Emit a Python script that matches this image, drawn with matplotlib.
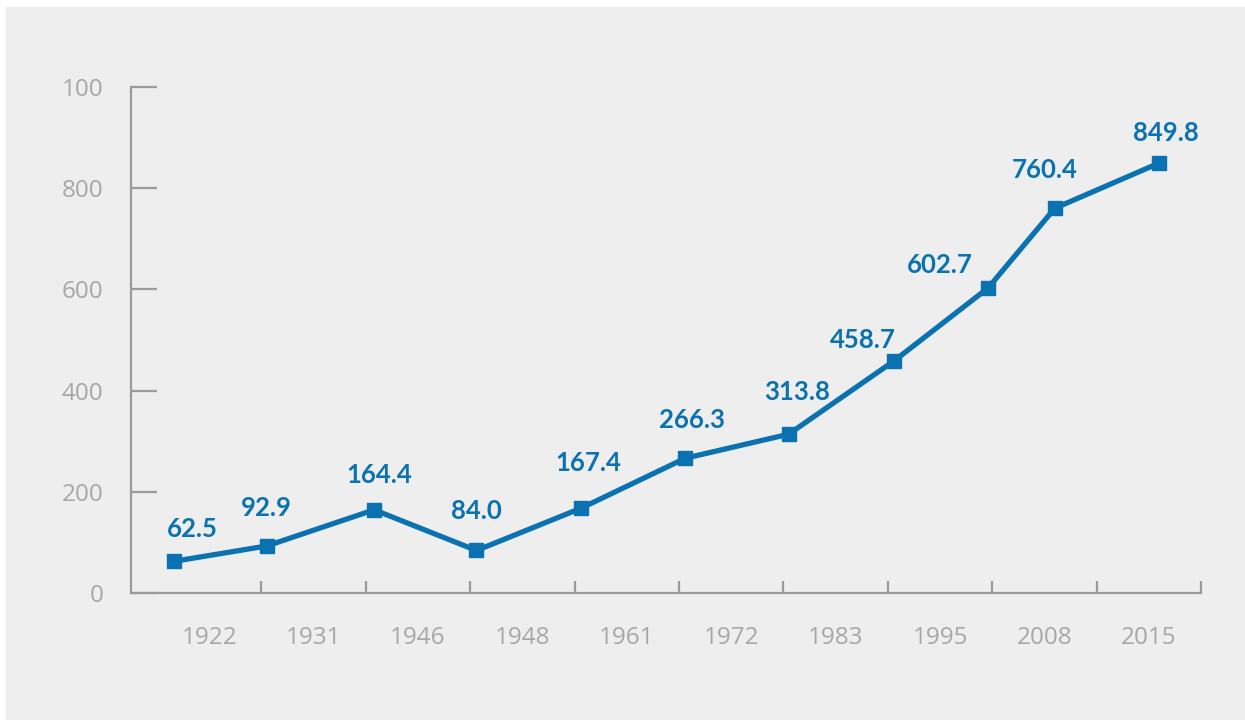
import matplotlib
matplotlib.use("Agg")
import matplotlib.pyplot as plt
from matplotlib.patches import Rectangle

# data
years = ["1922", "1931", "1946", "1948", "1961", "1972", "1983", "1995", "2008", "2015"]
values = [62.5, 92.9, 164.4, 84.0, 167.4, 266.3, 313.8, 458.7, 602.7, 760.4, 849.8]
# where each point sits along the axis, in category widths
positions = [0.16, 1.05, 2.08, 3.06, 4.06, 5.06, 6.05, 7.06, 7.96, 8.6, 9.6]
y_ticks = [0, 200, 400, 600, 800, 1000]
y_tick_labels = ["0", "200", "400", "600", "800", "100"]

# label offsets from marker (pixels: right, up)
label_offsets = [(19, 32), (0, 38), (5, 35), (0, 39), (7, 45), (7, 38),
                 (8, 42), (-31, 21), (-48, 23), (-10, 38), (7, 30)]

blue = "#0b72b1"
grey_axis = "#9b9b9d"
grey_text = "#a7a7a9"
bg = "#eeeeee"

W, H = 1245, 720
fig = plt.figure(figsize=(W / 100, H / 100), dpi=100)
fig.patch.set_facecolor("white")
fig.patches.append(Rectangle((6 / W, 0), 1, 1 - 7 / H, transform=fig.transFigure,
                             facecolor=bg, edgecolor="none", zorder=-10))

left, right, top, bottom = 131, 1201, 87, 593
ax = fig.add_axes([left / W, (H - bottom) / H, (right - left) / W, (bottom - top) / H])
ax.set_facecolor("none")

ax.plot(positions, values, color=blue, lw=3.8, marker="s", markersize=10,
        solid_joinstyle="miter", clip_on=False, zorder=3)

for x, v, (dx, dy) in zip(positions, values, label_offsets):
    ax.annotate(f"{v:.1f}", (x, v), xytext=(dx * 0.72, dy * 0.72), textcoords="offset points",
                ha="center", va="center", fontsize=18.5, fontweight="bold",
                family="Lato", color=blue)

ax.set_xlim(-(157 - 131) / 104.4, 10)
ax.set_ylim(0, 1000)

for side in ["top", "right"]:
    ax.spines[side].set_visible(False)
for side in ["left", "bottom"]:
    ax.spines[side].set_color(grey_axis)
    ax.spines[side].set_linewidth(1.6)

ax.set_yticks(y_ticks)
ax.set_yticklabels(y_tick_labels)
ax.tick_params(axis="y", direction="in", length=18.7, width=1.6, color=grey_axis,
               pad=20, labelsize=17.5, labelcolor=grey_text)

ax.set_xticks(range(1, 11))
ax.set_xticklabels([])
ax.set_xticks([i + 0.5 for i in range(10)], minor=True)
ax.set_xticklabels(years, minor=True)
ax.tick_params(axis="x", which="major", direction="in", length=8.6, width=1.6, color=grey_axis)
ax.tick_params(axis="x", which="minor", length=0, pad=24, labelsize=17.5, labelcolor=grey_text)

for lab in ax.get_xticklabels(minor=True) + ax.get_yticklabels():
    lab.set_family("Open Sans")

fig.savefig("out.png", dpi=100)
